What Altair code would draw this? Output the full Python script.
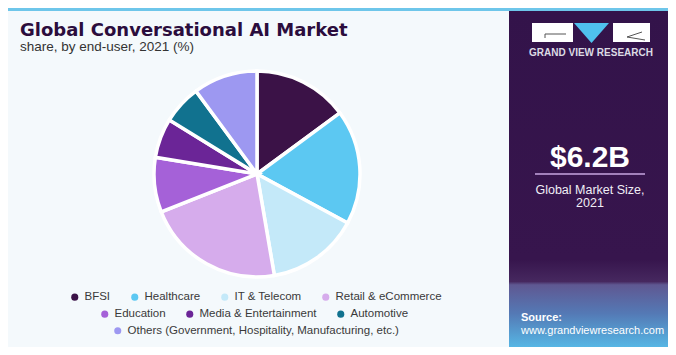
import altair as alt
import pandas as pd

# ---- data ----
segments = [
    "BFSI",
    "Healthcare",
    "IT & Telecom",
    "Retail & eCommerce",
    "Education",
    "Media & Entertainment",
    "Automotive",
    "Others (Government, Hospitality, Manufacturing, etc.)",
]
shares = [14.9, 18.0, 14.4, 21.7, 8.6, 6.2, 6.1, 10.1]
colors = ["#3b1247", "#5cc8f2", "#c4e9f9", "#d6acec", "#a561d8", "#6b2597", "#11728f", "#9d98f1"]

title_text = "Global Conversational AI Market"
subtitle_text = "share, by end-user, 2021 (%)"
market_value = "$6.2B"
market_label = ["Global Market Size,", "2021"]
brand = "GRAND VIEW RESEARCH"
source_head = "Source:"
source_url = "www.grandviewresearch.com"

df = pd.DataFrame({"segment": segments, "share": shares, "idx": list(range(len(segments)))})

W, H = 660, 339
one = alt.Data(values=[{"a": 1}])

# ---- background pieces ----
stripe = alt.Chart(one).mark_rect(color="#6ec6ea").encode(
    x=alt.value(0), x2=alt.value(W), y=alt.value(0), y2=alt.value(3))

panel_grad = alt.Gradient(
    gradient="linear", x1=0, x2=0, y1=0, y2=1,
    stops=[
        alt.GradientStop(color="#33134a", offset=0.0),
        alt.GradientStop(color="#37154d", offset=0.74),
        alt.GradientStop(color="#46285f", offset=0.805),
        alt.GradientStop(color="#5f5892", offset=0.815),
        alt.GradientStop(color="#5479b5", offset=0.9),
        alt.GradientStop(color="#56b6e4", offset=1.0),
    ],
)
panel = alt.Chart(one).mark_rect(fill=panel_grad).encode(
    x=alt.value(501), x2=alt.value(W), y=alt.value(3), y2=alt.value(H))

logo_l = alt.Chart(one).mark_rect(color="#ffffff").encode(
    x=alt.value(524), x2=alt.value(565), y=alt.value(15), y2=alt.value(34))
logo_r = alt.Chart(one).mark_rect(color="#ffffff").encode(
    x=alt.value(605), x2=alt.value(642), y=alt.value(15), y2=alt.value(34))
logo_tri = alt.Chart(one).mark_point(
    shape="M-1,-0.576L1,-0.576L0,0.576Z", filled=True, color="#4fc1ee", opacity=1, size=1225
).encode(x=alt.value(583.5), y=alt.value(25))
logo_line1 = alt.Chart(one).mark_rule(color="#555555", strokeWidth=1).encode(
    x=alt.value(537), x2=alt.value(558), y=alt.value(26), y2=alt.value(26))
logo_line2 = alt.Chart(one).mark_rule(color="#555555", strokeWidth=1).encode(
    x=alt.value(537), x2=alt.value(537), y=alt.value(26), y2=alt.value(30))
logo_line3 = alt.Chart(one).mark_rule(color="#555555", strokeWidth=1).encode(
    x=alt.value(634), x2=alt.value(619), y=alt.value(24), y2=alt.value(29))
logo_line4 = alt.Chart(one).mark_rule(color="#555555", strokeWidth=1).encode(
    x=alt.value(619), x2=alt.value(637), y=alt.value(29), y2=alt.value(32))

brand_txt = alt.Chart(one).mark_text(
    text=brand, font="Liberation Sans", fontWeight="bold", fontSize=10, color="#dcdbe4",
    align="center", baseline="middle").encode(x=alt.value(583), y=alt.value(45))

value_txt = alt.Chart(one).mark_text(
    text=market_value, font="Liberation Sans", fontWeight="bold", fontSize=30, color="#ffffff",
    align="center", baseline="alphabetic").encode(x=alt.value(582), y=alt.value(159))
value_rule = alt.Chart(one).mark_rule(color="#c7a6e0", strokeWidth=1.5).encode(
    x=alt.value(527), x2=alt.value(637), y=alt.value(166), y2=alt.value(166))
label_txt1 = alt.Chart(one).mark_text(
    text=market_label[0], font="Liberation Sans", fontSize=12.5, color="#f0eef5",
    align="center", baseline="middle").encode(x=alt.value(582), y=alt.value(182))
label_txt2 = alt.Chart(one).mark_text(
    text=market_label[1], font="Liberation Sans", fontSize=12.5, color="#f0eef5",
    align="center", baseline="middle").encode(x=alt.value(582), y=alt.value(195))

src1 = alt.Chart(one).mark_text(
    text=source_head, font="Liberation Sans", fontWeight="bold", fontSize=11, color="#ffffff",
    align="left", baseline="middle").encode(x=alt.value(513), y=alt.value(310))
src2 = alt.Chart(one).mark_text(
    text=source_url, font="Liberation Sans", fontSize=11, color="#ffffff",
    align="left", baseline="middle").encode(x=alt.value(513), y=alt.value(323))

title = alt.Chart(one).mark_text(
    text=title_text, font="DejaVu Sans", fontWeight="bold", fontSize=18, color="#2b0d3d",
    align="left", baseline="alphabetic").encode(x=alt.value(12), y=alt.value(28))
subtitle = alt.Chart(one).mark_text(
    text=subtitle_text, font="Liberation Sans", fontSize=13.5, color="#333333",
    align="left", baseline="alphabetic").encode(x=alt.value(12), y=alt.value(43))

# ---- pie ----
pie = alt.Chart(df).mark_arc(outerRadius=103, stroke="#ffffff", strokeWidth=3.5).encode(
    theta=alt.Theta("share:Q", stack=True),
    color=alt.Color("segment:N", scale=alt.Scale(domain=segments, range=colors), legend=None),
    order=alt.Order("idx:Q"),
    x=alt.value(249),
    y=alt.value(166),
)

# ---- legend rows (three horizontal legends) ----
rows = [segments[0:4], segments[4:7], segments[7:8]]
row_pos = [(61, 283), (91, 300), (104, 317)]


def legend_layer(row, pos):
    row_colors = [colors[segments.index(s)] for s in row]
    return alt.Chart(df).transform_filter(
        alt.FieldOneOfPredicate(field="segment", oneOf=row)
    ).mark_point(filled=True, opacity=0).encode(
        x=alt.value(0), y=alt.value(0),
        color=alt.Color(
            "segment:N",
            scale=alt.Scale(domain=row, range=row_colors),
            legend=alt.Legend(
                title=None, orient="none", legendX=pos[0], legendY=pos[1],
                direction="horizontal", symbolType="circle", symbolSize=50,
                symbolStrokeWidth=0, symbolOpacity=1, labelFont="Liberation Sans",
                labelFontSize=11.5, labelColor="#3a3a3a", columnPadding=18,
                labelOffset=4, padding=0, labelLimit=400,
            ),
        ),
    )


legends = [legend_layer(r, p) for r, p in zip(rows, row_pos)]

chart = alt.layer(
    stripe, panel, logo_l, logo_r, logo_tri, logo_line1, logo_line2, logo_line3, logo_line4,
    brand_txt, value_txt, value_rule, label_txt1, label_txt2, src1, src2,
    title, subtitle, pie, *legends,
).resolve_scale(color="independent").properties(
    width=W, height=H, autosize="none", padding=0, background="#f4f9fc"
).configure_view(stroke=None)

chart.save("out.html", embed_options={"renderer": "svg", "actions": False})
